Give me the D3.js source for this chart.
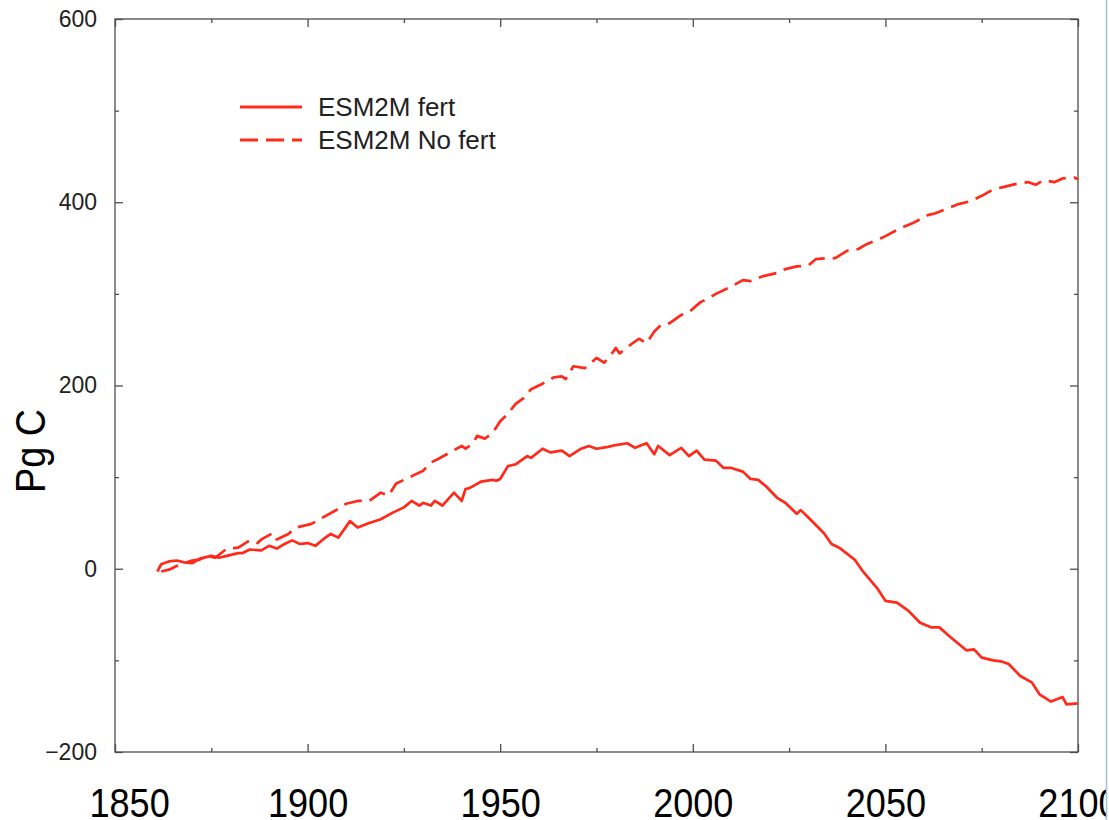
<!DOCTYPE html>
<html>
<head>
<meta charset="utf-8">
<script src="https://cdn.jsdelivr.net/npm/d3@7"></script>
<style>
  body { margin: 0; background: #fff; }
  svg { display: block; }
</style>
</head>
<body>
<svg id="chart" width="1109" height="820"></svg>
<script>
// Cumulative land carbon uptake (Pg C), ESM2M with and without CO2 fertilisation
const fertYears = [1861, 1862, 1864, 1866, 1868, 1870, 1872, 1875, 1877, 1879, 1882, 1883, 1885, 1888, 1890, 1892, 1894, 1896, 1898, 1900,
  1902, 1904, 1906, 1908, 1911, 1913, 1916, 1919, 1922, 1925, 1927, 1929, 1930, 1932, 1933, 1935, 1938, 1940, 1941, 1942,
  1945, 1948, 1949, 1950, 1952, 1954, 1957, 1958, 1961, 1963, 1966, 1968, 1971, 1973, 1975, 1978, 1980, 1983, 1985, 1988,
  1990, 1991, 1994, 1997, 1999, 2001, 2003, 2006, 2008, 2010, 2013, 2015, 2017, 2019, 2022, 2024, 2027, 2028, 2030, 2034,
  2036, 2038, 2042, 2044, 2048, 2050, 2053, 2056, 2059, 2062, 2064, 2067, 2071, 2073, 2075, 2078, 2080, 2082, 2085, 2088,
  2090, 2093, 2096, 2097, 2100];
const fertValues = [-3, 5, 8, 9, 7, 6, 11, 14, 12, 14, 17, 17, 21, 20, 25, 22, 27, 31, 27, 28,
  25, 32, 38, 34, 52, 45, 50, 54, 61, 67, 74, 69, 72, 69, 74, 69, 83, 74, 87, 88,
  95, 97, 96, 98, 112, 114, 123, 121, 131, 127, 129, 123, 131, 134, 131, 133, 135, 137, 132, 137,
  125, 134, 124, 132, 123, 129, 119, 118, 110, 110, 106, 98, 97, 90, 77, 72, 60, 64, 56, 39,
  27, 23, 10, -2, -22, -35, -37, -46, -59, -64, -64, -75, -89, -88, -97, -100, -101, -104, -117, -124,
  -137, -145, -140, -148, -147];

const noFertYears = [1862, 1864, 1866, 1868, 1870, 1872, 1874, 1876, 1879, 1882, 1885, 1887, 1888, 1891, 1892, 1895, 1897, 1901, 1904, 1907,
  1910, 1913, 1916, 1919, 1921, 1923, 1926, 1928, 1930, 1932, 1934, 1937, 1940, 1941, 1943, 1944, 1946, 1948, 1950, 1952,
  1954, 1956, 1958, 1961, 1964, 1966, 1967, 1969, 1972, 1975, 1977, 1979, 1980, 1981, 1984, 1986, 1988, 1990, 1992, 1994,
  1997, 1999, 2002, 2004, 2006, 2010, 2013, 2015, 2018, 2022, 2024, 2027, 2030, 2032, 2035, 2037, 2040, 2043, 2045, 2049,
  2050, 2054, 2057, 2061, 2063, 2066, 2069, 2072, 2075, 2078, 2080, 2084, 2087, 2089, 2091, 2094, 2096, 2099, 2100];
const noFertValues = [-3, -1, 3, 6, 9, 10, 14, 12, 22, 23, 31, 28, 32, 39, 32, 38, 45, 49, 56, 63,
  71, 74, 74, 83, 80, 93, 99, 103, 107, 116, 120, 127, 134, 131, 137, 145, 142, 148, 161, 169,
  180, 186, 196, 202, 209, 210, 207, 221, 219, 230, 225, 235, 241, 235, 245, 251, 246, 259, 267, 268,
  277, 280, 291, 295, 300, 308, 315, 314, 319, 323, 327, 330, 331, 338, 339, 339, 347, 349, 354, 361,
  363, 372, 377, 386, 388, 393, 398, 401, 407, 414, 416, 420, 422, 419, 424, 422, 426, 427, 425];

const seriesNames = ["ESM2M fert", "ESM2M No fert"];
const yTickValues = [-200, 0, 200, 400, 600];
const yMinorValues = [-100, 100, 300, 500];
const xMajorValues = [1850, 1900, 1950, 2000, 2050, 2100];
const xMinorValues = [1875, 1925, 1975, 2025, 2075];
const xLabelValues = [1850, 1900, 1950, 2000, 2050, 2100];
const yTitle = "Pg C";

const plot = { left: 115, right: 1078, top: 19, bottom: 752 };
const red = "#ff2a1a";
const frameColor = "#4d4d4d";

const x = d3.scaleLinear().domain([1850, 2100]).range([plot.left, plot.right]);
const y = d3.scaleLinear().domain([-200, 600]).range([plot.bottom, plot.top]);

const svg = d3.select("#chart");

// Inward-pointing ticks on all four sides of the frame
function tickSet(axisFn, scale, values, size, tx, ty) {
  svg.append("g")
    .attr("transform", `translate(${tx},${ty})`)
    .call(axisFn(scale).tickValues(values).tickSize(-size).tickFormat(""))
    .call(g => g.select(".domain").remove())
    .selectAll("line")
    .attr("stroke", frameColor)
    .attr("stroke-width", 1.3);
}
tickSet(d3.axisBottom, x, xMajorValues, 8, 0, plot.bottom);
tickSet(d3.axisBottom, x, xMinorValues, 4, 0, plot.bottom);
tickSet(d3.axisTop, x, xMajorValues, 8, 0, plot.top);
tickSet(d3.axisTop, x, xMinorValues, 4, 0, plot.top);
tickSet(d3.axisLeft, y, yTickValues, 8, plot.left, 0);
tickSet(d3.axisLeft, y, yMinorValues, 4, plot.left, 0);
tickSet(d3.axisRight, y, yTickValues, 8, plot.right, 0);
tickSet(d3.axisRight, y, yMinorValues, 4, plot.right, 0);

// Frame
svg.append("rect")
  .attr("x", plot.left).attr("y", plot.top)
  .attr("width", plot.right - plot.left).attr("height", plot.bottom - plot.top)
  .attr("fill", "none").attr("stroke", frameColor).attr("stroke-width", 1.3);

// Y tick labels
const yLab = svg.append("g")
  .attr("transform", `translate(${plot.left},0)`)
  .call(d3.axisLeft(y).tickValues(yTickValues).tickSize(0).tickPadding(18));
yLab.select(".domain").remove();
yLab.selectAll("text")
  .attr("font-family", "'Liberation Sans', Arial, sans-serif")
  .attr("font-size", 23)
  .attr("fill", "#222");

// Series
const line = d3.line().x(d => x(d[0])).y(d => y(d[1]));
svg.append("path")
  .datum(d3.zip(noFertYears, noFertValues))
  .attr("d", line)
  .attr("fill", "none").attr("stroke", red).attr("stroke-width", 2.7)
  .attr("stroke-dasharray", "18,8")
  .attr("stroke-linejoin", "round");
svg.append("path")
  .datum(d3.zip(fertYears, fertValues))
  .attr("d", line)
  .attr("fill", "none").attr("stroke", red).attr("stroke-width", 2.7)
  .attr("stroke-linejoin", "round");

// Legend
const legend = svg.append("g").attr("transform", "translate(240,107)");
seriesNames.forEach((name, i) => {
  const row = legend.append("g").attr("transform", `translate(0,${i * 33})`);
  row.append("line")
    .attr("x1", 0).attr("x2", 62).attr("y1", 0).attr("y2", 0)
    .attr("stroke", red).attr("stroke-width", 3)
    .attr("stroke-dasharray", i === 1 ? "18,8" : null);
  row.append("text")
    .attr("x", 78).attr("y", 9)
    .attr("font-family", "'Liberation Sans', Arial, sans-serif")
    .attr("font-size", 26)
    .attr("fill", "#222")
    .text(name);
});

// Large year labels along the bottom, clipped at the slide edge
svg.append("clipPath").attr("id", "edge")
  .append("rect").attr("x", 0).attr("y", 0).attr("width", 1106).attr("height", 820);
const xLab = svg.append("g")
  .attr("clip-path", "url(#edge)")
  .append("g")
  .attr("transform", "translate(0,817)")
  .call(d3.axisBottom(x).tickValues(xLabelValues).tickSize(0).tickFormat(d3.format("d")));
xLab.select(".domain").remove();
xLab.selectAll("text")
  .attr("y", 0).attr("dy", 0)
  .attr("x", d => d === 1850 ? 16 : 0)
  .attr("transform", "scale(0.88,1)")
  .attr("font-family", "'Liberation Sans', Arial, sans-serif")
  .attr("font-size", 41)
  .attr("fill", "#000");

// Y title
svg.append("text")
  .attr("transform", "translate(45,451) rotate(-90) scale(0.9,1)")
  .attr("text-anchor", "middle")
  .attr("font-family", "'Liberation Sans', Arial, sans-serif")
  .attr("font-size", 42)
  .attr("fill", "#000")
  .text(yTitle);

// Slide edge
svg.append("line")
  .attr("x1", 1106.5).attr("x2", 1106.5).attr("y1", 0).attr("y2", 820)
  .attr("stroke", "#9dc3e6").attr("stroke-width", 1.5);
</script>
</body>
</html>
